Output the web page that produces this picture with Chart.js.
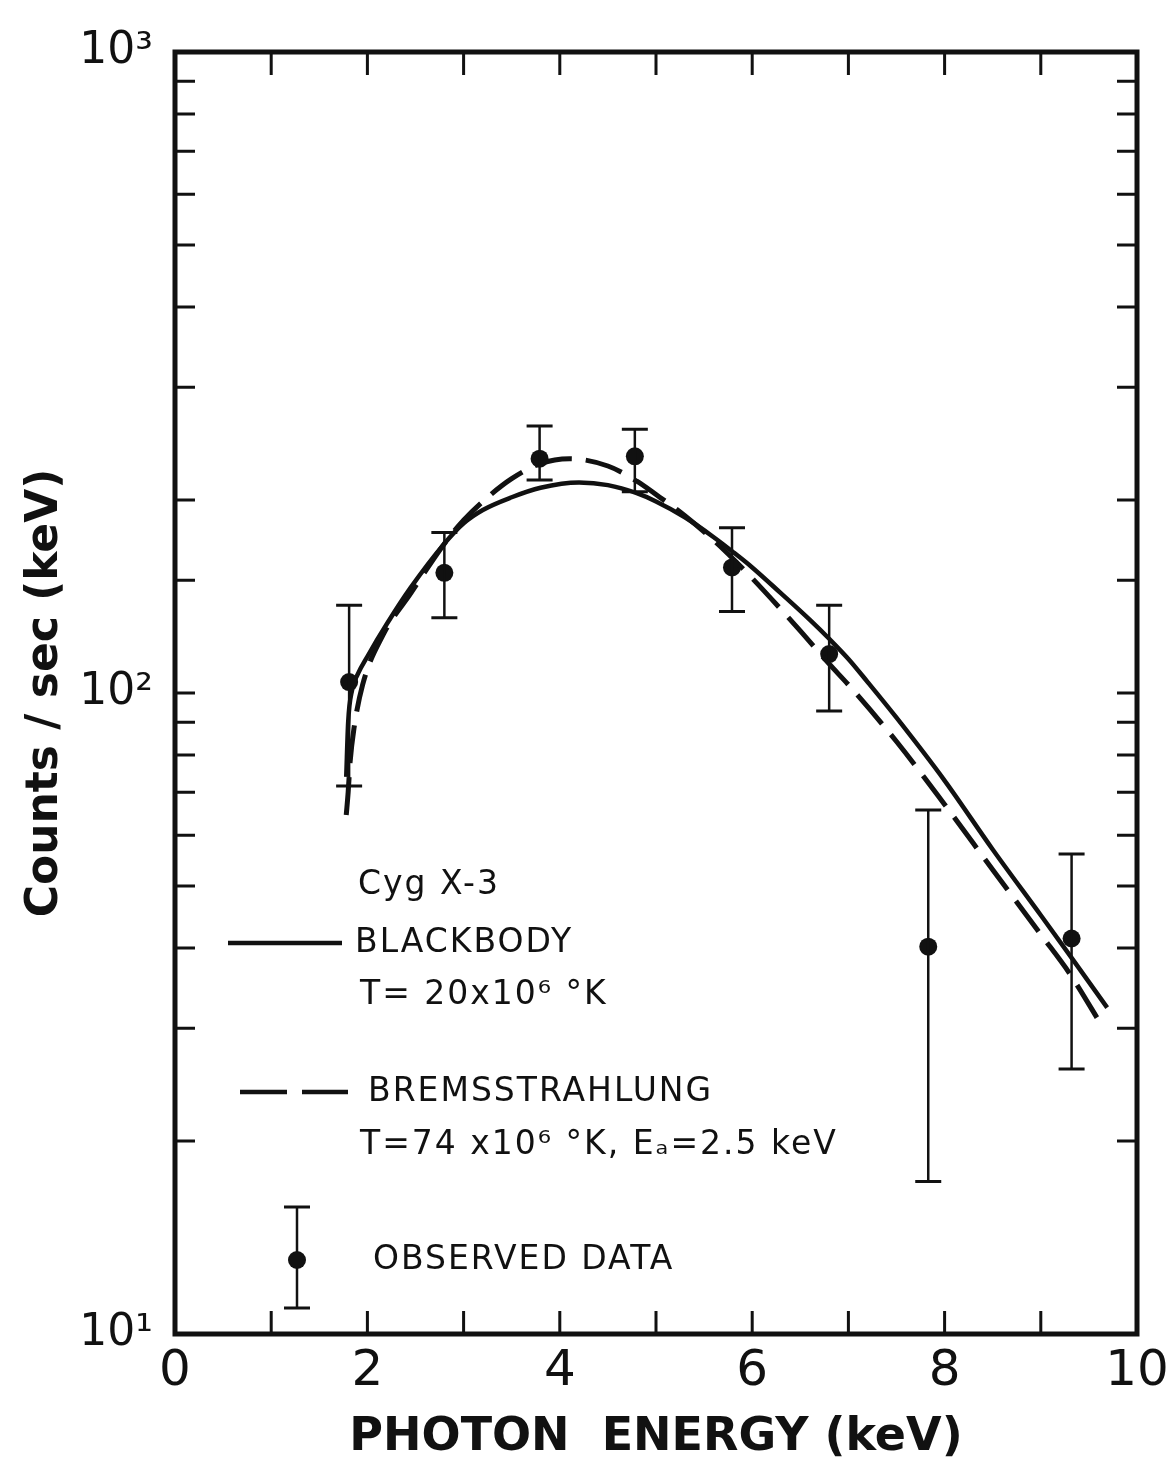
<!DOCTYPE html>
<html>
<head>
<meta charset="utf-8">
<script src="https://cdn.jsdelivr.net/npm/chart.js@4"></script>
<style>
  html, body { margin: 0; padding: 0; background: #fff; }
  #wrap { width: 1169px; height: 1461px; }
</style>
</head>
<body>
<div id="wrap"><canvas id="spectrum" width="1169" height="1461"></canvas></div>
<script>
// Cyg X-3: observed counts with blackbody and bremsstrahlung model curves

// observed points (keV, counts/sec/keV) with error bar ends
const energy = [1.81, 2.80, 3.79, 4.78, 5.79, 6.80, 7.83, 9.32];
const counts = [104, 154, 232, 234, 157, 115, 40.2, 41.4];
const countsHigh = [137, 178, 261, 258, 181, 137, 65.7, 56.1];
const countsLow = [71.6, 131, 215, 206, 134, 93.7, 17.3, 25.9];

// blackbody, T = 20e6 K
const bbEnergy = [1.78, 1.80, 1.84, 1.90, 2.0, 2.2, 2.45, 2.8, 3.0, 3.2, 3.5, 3.8, 4.2, 4.5, 4.8,
                  5.0, 5.3, 5.6, 5.8, 6.0, 6.3, 6.6, 6.8, 7.0, 7.2, 7.5, 8.0, 8.5, 9.0, 9.3, 9.69];
const bbCounts = [74, 90, 101, 107, 114, 128, 146, 171, 184, 193, 202, 209, 213, 211, 205,
                  199, 188, 175, 166, 157, 143, 130, 121.5, 113, 104, 91.5, 73, 57, 45, 39, 32.3];

// bremsstrahlung, T = 74e6 K, Ea = 2.5 keV
const bremEnergy = [1.78, 1.80, 1.82, 1.86, 1.95, 2.16, 2.45, 2.8, 3.0, 3.2, 3.5, 3.8, 4.1, 4.5, 4.8,
                    5.0, 5.3, 5.6, 5.8, 6.0, 6.3, 6.5, 6.8, 7.0, 7.5, 8.0, 8.5, 9.0, 9.3, 9.65];
const bremCounts = [64.5, 70, 78, 88, 103, 123, 143, 171, 186, 199, 216, 228, 232, 226, 214,
                    204, 189, 173, 162, 151, 135, 125, 111, 103, 84, 67, 53, 42, 36.5, 30];

const xTickValues = [0, 2, 4, 6, 8, 10];
const yDecades = [10, 100, 1000];
const yDecadeLabels = ['10\u00b9', '10\u00b2', '10\u00b3'];

const INK = '#111';

function toPoints(xs, ys) {
  return xs.map((x, i) => ({ x: x, y: ys[i] }));
}

// box around the plot with inward ticks on all four sides
const framePlugin = {
  id: 'frame',
  afterDraw(chart) {
    const { ctx, chartArea: a } = chart;
    const xs = chart.scales.x, ys = chart.scales.y;
    ctx.save();
    ctx.strokeStyle = INK;
    ctx.lineCap = 'butt';
    ctx.lineWidth = 3;
    for (let v = xs.min + 1; v < xs.max; v++) {
      const px = xs.getPixelForValue(v);
      ctx.beginPath();
      ctx.moveTo(px, a.bottom); ctx.lineTo(px, a.bottom - 23);
      ctx.moveTo(px, a.top); ctx.lineTo(px, a.top + 23);
      ctx.stroke();
    }
    ys.ticks.forEach(t => {
      if (t.value <= ys.min || t.value >= ys.max) return;
      const py = ys.getPixelForValue(t.value);
      ctx.beginPath();
      ctx.moveTo(a.left, py); ctx.lineTo(a.left + 20, py);
      ctx.moveTo(a.right, py); ctx.lineTo(a.right - 20, py);
      ctx.stroke();
    });
    ctx.lineWidth = 5;
    ctx.lineJoin = 'miter';
    ctx.strokeRect(a.left, a.top, a.right - a.left, a.bottom - a.top);
    ctx.restore();
  }
};

// vertical error bars with caps for the observed points
const errorBarPlugin = {
  id: 'errorBars',
  afterDatasetsDraw(chart) {
    const { ctx } = chart;
    const xs = chart.scales.x, ys = chart.scales.y;
    ctx.save();
    ctx.strokeStyle = INK;
    energy.forEach((e, i) => {
      const px = xs.getPixelForValue(e);
      const top = ys.getPixelForValue(countsHigh[i]);
      const bot = ys.getPixelForValue(countsLow[i]);
      ctx.lineWidth = 2.5;
      ctx.beginPath();
      ctx.moveTo(px, top); ctx.lineTo(px, bot);
      ctx.stroke();
      ctx.lineWidth = 3;
      ctx.beginPath();
      ctx.moveTo(px - 13, top); ctx.lineTo(px + 13, top);
      ctx.moveTo(px - 13, bot); ctx.lineTo(px + 13, bot);
      ctx.stroke();
    });
    ctx.restore();
  }
};

// hand-placed key in the lower left of the plot
const keyPlugin = {
  id: 'key',
  afterDraw(chart) {
    const { ctx, chartArea: a } = chart;
    const L = a.left, T = a.top;
    ctx.save();
    ctx.fillStyle = INK;
    ctx.strokeStyle = INK;
    ctx.font = '33px "DejaVu Sans"';
    ctx.letterSpacing = '2px';
    ctx.textBaseline = 'middle';
    ctx.textAlign = 'left';
    ctx.fillText('Cyg X-3', L + 183, T + 833);
    ctx.fillText('BLACKBODY', L + 180, T + 891);
    ctx.fillText('T= 20x10\u2076 \u00b0K', L + 185, T + 943);
    ctx.fillText('BREMSSTRAHLUNG', L + 193, T + 1040);
    ctx.fillText('T=74 x10\u2076 \u00b0K, E\u2090=2.5 keV', L + 185, T + 1093);
    ctx.fillText('OBSERVED DATA', L + 198, T + 1208);

    ctx.lineWidth = 4.5;
    ctx.beginPath();
    ctx.moveTo(L + 53, T + 891); ctx.lineTo(L + 167, T + 891);
    ctx.stroke();
    ctx.setLineDash([47, 15]);
    ctx.beginPath();
    ctx.moveTo(L + 65, T + 1040); ctx.lineTo(L + 173, T + 1040);
    ctx.stroke();
    ctx.setLineDash([]);

    const px = L + 122;
    ctx.lineWidth = 2.5;
    ctx.beginPath();
    ctx.moveTo(px, T + 1155); ctx.lineTo(px, T + 1256);
    ctx.stroke();
    ctx.lineWidth = 3;
    ctx.beginPath();
    ctx.moveTo(px - 13, T + 1155); ctx.lineTo(px + 13, T + 1155);
    ctx.moveTo(px - 13, T + 1256); ctx.lineTo(px + 13, T + 1256);
    ctx.stroke();
    ctx.beginPath();
    ctx.arc(px, T + 1208, 9, 0, Math.PI * 2);
    ctx.fill();
    ctx.restore();
  }
};

const ctx = document.getElementById('spectrum').getContext('2d');
new Chart(ctx, {
  type: 'scatter',
  data: {
    datasets: [
      {
        label: 'Blackbody',
        data: toPoints(bbEnergy, bbCounts),
        showLine: true,
        borderColor: INK,
        borderWidth: 4.5,
        pointRadius: 0,
        cubicInterpolationMode: 'monotone'
      },
      {
        label: 'Bremsstrahlung',
        data: toPoints(bremEnergy, bremCounts),
        showLine: true,
        borderColor: INK,
        borderWidth: 5,
        borderDash: [38, 14],
        pointRadius: 0,
        cubicInterpolationMode: 'monotone'
      },
      {
        label: 'Observed data',
        data: toPoints(energy, counts),
        showLine: false,
        pointRadius: 9,
        pointBackgroundColor: INK,
        pointBorderWidth: 0,
        borderColor: INK
      }
    ]
  },
  options: {
    responsive: false,
    animation: false,
    layout: { padding: { top: 52, right: 32, left: 0, bottom: 0 } },
    plugins: { legend: { display: false }, tooltip: { enabled: false } },
    scales: {
      x: {
        type: 'linear',
        min: 0,
        max: 10,
        afterBuildTicks: s => { s.ticks = xTickValues.map(v => ({ value: v })); },
        ticks: {
          color: INK,
          font: { family: 'DejaVu Sans', size: 50 },
          padding: 8
        },
        grid: { display: false, drawTicks: false },
        border: { display: false },
        title: {
          display: true,
          text: 'PHOTON  ENERGY (keV)',
          color: INK,
          font: { family: 'DejaVu Sans', size: 46, weight: 'bold', lineHeight: 1 },
          padding: { top: 0, bottom: 0 }
        },
        afterFit: s => {
          s.height = 127;
          s.paddingLeft = 0;
          s.paddingRight = 0;
        }
      },
      y: {
        type: 'logarithmic',
        min: 10,
        max: 1000,
        ticks: {
          autoSkip: false,
          color: INK,
          font: { family: 'DejaVu Sans', size: 44 },
          padding: 22,
          callback: v => {
            const k = yDecades.indexOf(v);
            return k >= 0 ? yDecadeLabels[k] : '';
          }
        },
        grid: { display: false, drawTicks: false },
        border: { display: false },
        title: {
          display: true,
          text: 'Counts / sec (keV)',
          color: INK,
          font: { family: 'DejaVu Sans', size: 44, weight: 'bold', lineHeight: 1 },
          padding: { top: 24, bottom: 0 }
        },
        afterFit: s => {
          s.width = 175;
          s.paddingTop = 0;
          s.paddingBottom = 0;
        }
      }
    }
  },
  plugins: [errorBarPlugin, framePlugin, keyPlugin]
});
</script>
</body>
</html>
